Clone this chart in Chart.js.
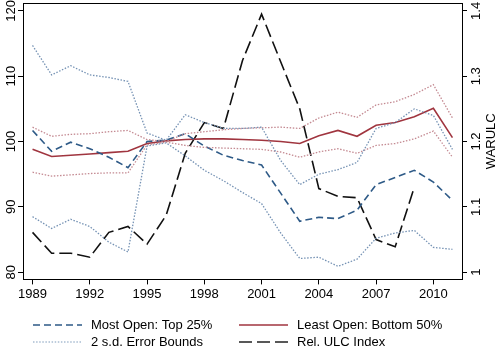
<!DOCTYPE html>
<html>
<head>
<meta charset="utf-8">
<script src="https://cdn.jsdelivr.net/npm/chart.js@4.4.1/dist/chart.umd.min.js"></script>
<style>
  html, body { margin: 0; padding: 0; background: #fff; }
</style>
</head>
<body>
<canvas id="chart" width="500" height="353"></canvas>
<script>
// years and series
const years = [1989, 1990, 1991, 1992, 1993, 1994, 1995, 1996, 1997, 1998, 1999, 2000,
               2001, 2002, 2003, 2004, 2005, 2006, 2007, 2008, 2009, 2010, 2011];
const mostOpen   = [101.7, 98.5, 99.9, 98.9, 97.6, 96.0, 100.0, 100.2, 101.2, 99.3, 97.9, 97.1,
                    96.4, 92.1, 87.8, 88.4, 88.2, 89.5, 93.4, 94.5, 95.6, 93.8, 91.0];
const mostUpper  = [114.7, 110.2, 111.6, 110.2, 109.8, 109.2, 101.3, 100.2, 104.1, 102.9, 102.0, 102.0,
                    102.2, 97.1, 93.4, 95.0, 95.7, 96.8, 102.0, 102.9, 105.0, 104.0, 98.8];
const mostLower  = [88.5, 86.7, 88.1, 87.0, 84.6, 83.1, 99.3, 99.8, 97.8, 95.6, 94.0, 92.2,
                    90.5, 86.0, 82.1, 82.3, 80.9, 82.0, 85.2, 86.0, 86.4, 83.8, 83.5];
const leastOpen  = [98.8, 97.7, 97.9, 98.1, 98.3, 98.5, 99.7, 100.1, 100.3, 100.4, 100.4, 100.3,
                    100.2, 100.0, 99.7, 100.9, 101.7, 100.8, 102.5, 102.9, 103.8, 105.1, 100.6];
const leastUpper = [102.2, 100.8, 101.1, 101.2, 101.5, 101.7, 100.3, 100.0, 101.2, 101.5, 101.8, 102.0,
                    102.1, 102.2, 102.0, 103.6, 104.5, 103.7, 105.6, 106.1, 107.2, 108.7, 103.6];
const leastLower = [95.3, 94.7, 94.9, 95.1, 95.2, 95.2, 99.5, 99.9, 99.4, 99.1, 99.0, 98.9,
                    98.8, 98.4, 97.6, 98.4, 98.9, 98.2, 99.4, 99.7, 100.4, 101.6, 97.6];
// right axis, 1989-2009 only
const ulcIndex   = [1.061, 1.029, 1.029, 1.023, 1.061, 1.070, 1.043, 1.087, 1.182, 1.229, 1.220, 1.324,
                    1.395, 1.322, 1.250, 1.128, 1.116, 1.114, 1.050, 1.039, 1.130];

const xTicks = [1989, 1992, 1995, 1998, 2001, 2004, 2007, 2010];
const yTicks = [80, 90, 100, 110, 120];
const y2Ticks = [1, 1.1, 1.2, 1.3, 1.4];
const y2TickLabels = ["1", "1.1", "1.2", "1.3", "1.4"];
const y2Title = "WARULC";
const legendLabels = ["Most Open: Top 25%", "Least Open: Bottom 50%", "2 s.d. Error Bounds", "Rel. ULC Index"];

const FONT = "'Liberation Sans', Arial, sans-serif";

function pts(vals) {
  return vals.map((v, i) => ({ x: years[i], y: v }));
}

const blue = '#2e5a87';
const red = '#a0353f';
const blueDot = '#7592b4';
const redDot = '#c48a92';

const dotted = (label, vals, color) => ({
  label: label, data: pts(vals), borderColor: color, borderWidth: 1.3,
  borderDash: [1.5, 1.6], pointRadius: 0, yAxisID: 'y', tension: 0
});

const datasets = [
  dotted('mu', mostUpper, blueDot),
  dotted('ml', mostLower, blueDot),
  dotted('lu', leastUpper, redDot),
  dotted('ll', leastLower, redDot),
  { label: legendLabels[0], data: pts(mostOpen), borderColor: blue, borderWidth: 1.6,
    borderDash: [7, 4], pointRadius: 0, yAxisID: 'y' },
  { label: legendLabels[1], data: pts(leastOpen), borderColor: red, borderWidth: 1.6,
    pointRadius: 0, yAxisID: 'y' },
  { label: legendLabels[3], data: pts(ulcIndex), borderColor: '#111', borderWidth: 1.6,
    borderDash: [13, 5], pointRadius: 0, yAxisID: 'y2' }
];

const decor = {
  id: 'decor',
  afterDraw(chart) {
    const ctx = chart.ctx;
    const a = chart.chartArea;
    ctx.save();
    // frame
    ctx.strokeStyle = '#000';
    ctx.lineWidth = 1;
    ctx.strokeRect(Math.round(a.left) + 0.5, Math.round(a.top) + 0.5,
                   Math.round(a.right - a.left), Math.round(a.bottom - a.top));

    ctx.fillStyle = '#000';
    ctx.font = '13px ' + FONT;
    ctx.textAlign = 'center';
    ctx.textBaseline = 'alphabetic';
    // left tick labels, rotated
    const ys = chart.scales.y;
    yTicks.forEach(v => {
      ctx.save();
      ctx.translate(a.left - 8, ys.getPixelForValue(v));
      ctx.rotate(-Math.PI / 2);
      ctx.fillText(String(v), 0, 0);
      ctx.restore();
    });
    // right tick labels, rotated
    const y2 = chart.scales.y2;
    y2Ticks.forEach((v, i) => {
      ctx.save();
      ctx.translate(a.right + 18, y2.getPixelForValue(v));
      ctx.rotate(-Math.PI / 2);
      ctx.fillText(y2TickLabels[i], 0, 0);
      ctx.restore();
    });
    // right axis title
    ctx.save();
    ctx.translate(a.right + 33, (a.top + a.bottom) / 2);
    ctx.rotate(-Math.PI / 2);
    ctx.fillText(y2Title, 0, 0);
    ctx.restore();

    // legend, two columns
    const items = [
      { text: legendLabels[0], color: blue, dash: [7, 4], w: 1.6, col: 0, row: 0 },
      { text: legendLabels[1], color: red, dash: [], w: 1.6, col: 1, row: 0 },
      { text: legendLabels[2], color: '#a9bdd2', dash: [1.5, 1.6], w: 1.3, col: 0, row: 1 },
      { text: legendLabels[3], color: '#222', dash: [13, 5], w: 1.6, col: 1, row: 1 }
    ];
    const colX = [33, 239];
    const rowY = [325, 342];
    ctx.textAlign = 'left';
    ctx.textBaseline = 'middle';
    items.forEach(it => {
      const x = colX[it.col], y = rowY[it.row];
      ctx.strokeStyle = it.color;
      ctx.lineWidth = it.w;
      ctx.setLineDash(it.dash);
      ctx.beginPath();
      ctx.moveTo(x, y);
      ctx.lineTo(x + 49, y);
      ctx.stroke();
      ctx.setLineDash([]);
      ctx.fillText(it.text, x + 58, y);
    });
    ctx.restore();
  }
};

new Chart(document.getElementById('chart'), {
  type: 'line',
  data: { datasets: datasets },
  options: {
    responsive: false,
    animation: false,
    layout: { padding: { left: 18, right: 33, top: 3, bottom: 49 } },
    plugins: { legend: { display: false }, tooltip: { enabled: false } },
    scales: {
      x: {
        type: 'linear', min: 1988.5, max: 2011.5,
        afterBuildTicks: s => { s.ticks = xTicks.map(v => ({ value: v })); },
        grid: { drawOnChartArea: false, drawTicks: true, tickLength: 5, color: '#000' },
        border: { display: true, color: '#000', width: 1 },
        ticks: { color: '#000', font: { size: 13, family: FONT }, padding: 2,
                 maxRotation: 0, autoSkip: false, callback: v => String(v) }
      },
      y: {
        position: 'left', min: 78.9, max: 121.2,
        afterBuildTicks: s => { s.ticks = yTicks.map(v => ({ value: v })); },
        grid: { drawOnChartArea: false, drawTicks: true, tickLength: 5, color: '#000' },
        border: { display: true, color: '#000', width: 1 },
        ticks: { display: false }
      },
      y2: {
        position: 'right', min: 0.989, max: 1.412,
        afterBuildTicks: s => { s.ticks = y2Ticks.map(v => ({ value: v })); },
        grid: { drawOnChartArea: false, drawTicks: true, tickLength: 5, color: '#000' },
        border: { display: true, color: '#000', width: 1 },
        ticks: { display: false }
      }
    }
  },
  plugins: [decor]
});
</script>
</body>
</html>
